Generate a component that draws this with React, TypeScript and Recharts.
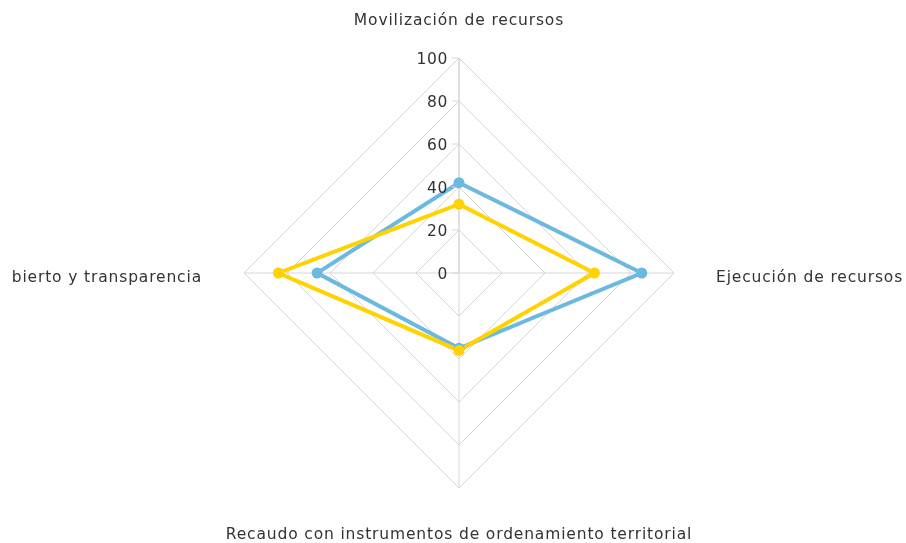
import React from 'react';
import { RadarChart, Radar, PolarGrid, PolarAngleAxis, PolarRadiusAxis } from 'recharts';

const categories = [
  'Movilización de recursos',
  'Ejecución de recursos',
  'Recaudo con instrumentos de ordenamiento territorial',
  'Gobierno abierto y transparencia',
];
const blueValues = [42, 85, 35, 66];
const yellowValues = [32, 63, 36, 84];
const radiusTicks = [0, 20, 40, 60, 80, 100];

const data = categories.map((name, i) => ({
  name,
  blue: blueValues[i],
  yellow: yellowValues[i],
}));

const FONT = 'Verdana, "DejaVu Sans", sans-serif';
const BLUE = '#6cb9e0';
const YELLOW = '#ffd200';
const GRID = '#d6d6d6';

const AngleTick = (props: any) => {
  const { x, y, payload, textAnchor } = props;
  return (
    <text x={x} y={y + 4} textAnchor={textAnchor} dominantBaseline="central" fontSize={15.5} letterSpacing={0.85} fontFamily={FONT} fill="#333">
      {payload.value}
    </text>
  );
};

const RadiusTick = (props: any) => {
  const { x, y, payload } = props;
  return (
    <g>
      <line x1={x - 7} y1={y} x2={x} y2={y} stroke={GRID} />
      <text x={x - 11} y={y + 1} textAnchor="end" dominantBaseline="central" fontSize={15.5} letterSpacing={0.6} fontFamily={FONT} fill="#333">
        {payload.value}
      </text>
    </g>
  );
};

const makeDot = (color: string) => (props: any) => (
  <circle key={`${color}-${props.index}`} cx={props.cx} cy={props.cy} r={5.5} fill={color} stroke="none" />
);

export default function App() {
  return (
    <div style={{ position: 'fixed', left: 12, top: 0, width: 894, height: 543, overflow: 'hidden' }}>
      <RadarChart width={894} height={543} data={data} cx={447} cy={273} outerRadius={215} startAngle={90} endAngle={-270}>
        <PolarGrid gridType="polygon" stroke={GRID} />
        <PolarAngleAxis dataKey="name" tick={<AngleTick />} tickLine={false} tickSize={42} axisLine={false} />
        <PolarRadiusAxis
          angle={90}
          domain={[0, 100]}
          ticks={radiusTicks as any}
          tickCount={6}
          tick={<RadiusTick />}
          axisLine={{ stroke: GRID }}
          tickLine={false}
        />
        <Radar dataKey="blue" stroke={BLUE} strokeWidth={4} fill="none" fillOpacity={0}
          dot={makeDot(BLUE)} isAnimationActive={false} />
        <Radar dataKey="yellow" stroke={YELLOW} strokeWidth={4} fill="none" fillOpacity={0}
          dot={makeDot(YELLOW)} isAnimationActive={false} />
      </RadarChart>
    </div>
  );
}
